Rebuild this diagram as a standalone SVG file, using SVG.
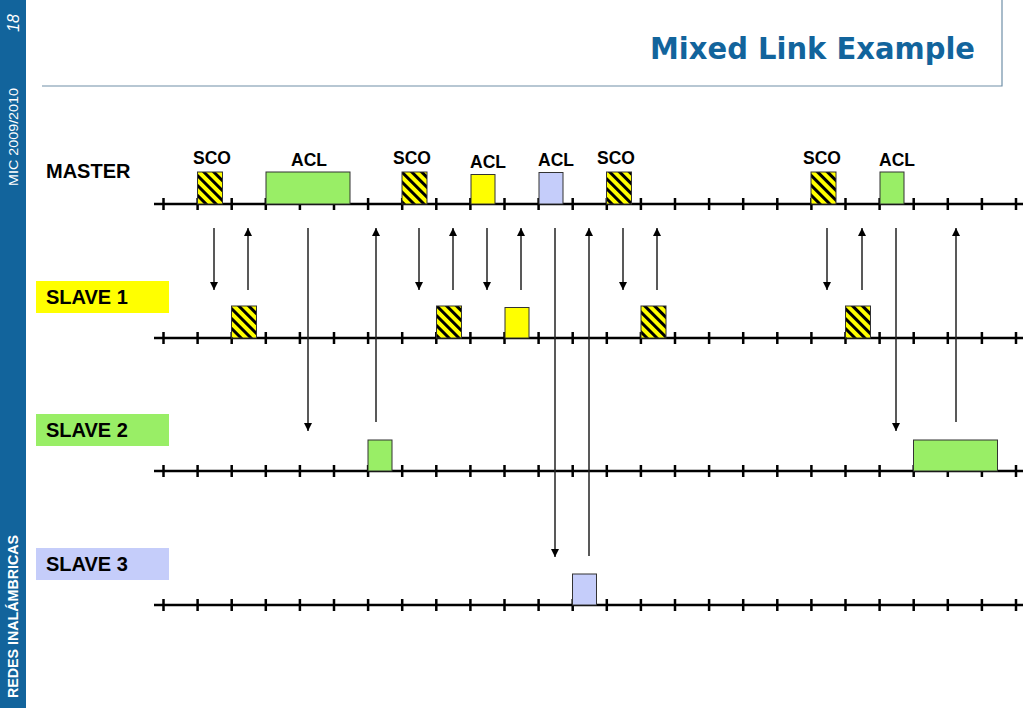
<svg xmlns="http://www.w3.org/2000/svg" width="1023" height="708" viewBox="0 0 1023 708">
<defs>
<pattern id="hatch" width="7" height="7" patternUnits="userSpaceOnUse" patternTransform="rotate(-45)">
<rect width="7" height="7" fill="#ffff00"/>
<rect width="3" height="7" fill="#000"/>
</pattern>
<marker id="ah" viewBox="0 0 10 10" refX="10" refY="5" markerWidth="8" markerHeight="8" markerUnits="userSpaceOnUse" orient="auto">
<path d="M0,0 L10,5 L0,10 z" fill="#000"/>
</marker>
<g id="ruler">
<line x1="154" y1="0" x2="1023" y2="0" stroke="#000" stroke-width="2.5"/>
<path d="M163.5,-6v12M197.6,-6v12M231.7,-6v12M265.8,-6v12M299.9,-6v12M334,-6v12M368.1,-6v12M402.2,-6v12M436.3,-6v12M470.4,-6v12M504.5,-6v12M538.6,-6v12M572.7,-6v12M606.8,-6v12M640.9,-6v12M675,-6v12M709.1,-6v12M743.2,-6v12M777.3,-6v12M811.4,-6v12M845.5,-6v12M879.6,-6v12M913.7,-6v12M947.8,-6v12M981.9,-6v12M1016,-6v12" stroke="#000" stroke-width="2.5"/>
</g>
</defs>
<style>
.lbl{font-family:"Liberation Sans",Arial,sans-serif;font-weight:bold;font-size:17.5px;fill:#000;text-anchor:middle}
.row{font-family:"Liberation Sans",Arial,sans-serif;font-weight:bold;font-size:20px;fill:#000}
.sco{fill:url(#hatch);stroke:#333;stroke-width:1}
.grn{fill:#99ee66;stroke:#333;stroke-width:1}
.yel{fill:#ffff00;stroke:#333;stroke-width:1}
.blu{fill:#c5cdfa;stroke:#333;stroke-width:1}
.arr{stroke:#222;stroke-width:1.5;fill:none;marker-end:url(#ah)}
</style>
<rect width="1023" height="708" fill="#fff"/>
<g id="sidebar">
<rect x="0" y="0" width="26" height="708" fill="#12649c"/>
<text transform="translate(19,23) rotate(-90)" font-family="Liberation Sans,Arial,sans-serif" font-style="italic" font-size="16" fill="#fff" text-anchor="middle">18</text>
<text transform="translate(18,186) rotate(-90)" font-family="Liberation Sans,Arial,sans-serif" font-size="13.5" fill="#fff" textLength="98" lengthAdjust="spacingAndGlyphs">MIC 2009/2010</text>
<text transform="translate(18,698) rotate(-90)" font-family="Liberation Sans,Arial,sans-serif" font-weight="bold" font-size="14.5" fill="#fff" textLength="163" lengthAdjust="spacingAndGlyphs">REDES INALÁMBRICAS</text>
</g>
<g id="title">
<path d="M42,86H1002V0" stroke="#7090a8" stroke-width="1.2" fill="none"/>
<text x="975" y="59" font-family="DejaVu Sans,Verdana,sans-serif" font-weight="bold" font-size="31" fill="#12649c" text-anchor="end" textLength="325" lengthAdjust="spacingAndGlyphs">Mixed Link Example</text>
</g>
<g id="master">
<text class="row" x="46" y="178">MASTER</text>
<use href="#ruler" y="204"/>
<rect class="sco" x="197.5" y="172" width="25" height="32"/>
<rect class="grn" x="266" y="172" width="84" height="32"/>
<rect class="sco" x="402" y="172" width="25" height="32"/>
<rect class="yel" x="471" y="174.5" width="24" height="29.5"/>
<rect class="blu" x="539" y="172.5" width="24" height="31.5"/>
<rect class="sco" x="606.5" y="172" width="25" height="32"/>
<rect class="sco" x="811" y="172" width="25" height="32"/>
<rect class="grn" x="880" y="172" width="24" height="32"/>
<text class="lbl" x="212" y="164">SCO</text>
<text class="lbl" x="309" y="166">ACL</text>
<text class="lbl" x="412" y="164">SCO</text>
<text class="lbl" x="488" y="168">ACL</text>
<text class="lbl" x="556" y="166">ACL</text>
<text class="lbl" x="616" y="164">SCO</text>
<text class="lbl" x="822" y="164">SCO</text>
<text class="lbl" x="897" y="166">ACL</text>
</g>
<g id="slave1">
<rect x="36" y="281" width="133" height="32" fill="#ffff00"/>
<text class="row" x="46" y="304">SLAVE 1</text>
<use href="#ruler" y="338"/>
<rect class="sco" x="231.5" y="306" width="25" height="32"/>
<rect class="sco" x="436.5" y="306" width="25" height="32"/>
<rect class="yel" x="505" y="307.5" width="24" height="30.5"/>
<rect class="sco" x="641" y="306" width="25" height="32"/>
<rect class="sco" x="845.5" y="306" width="25" height="32"/>
</g>
<g id="slave2">
<rect x="36" y="414" width="133" height="32" fill="#99ee66"/>
<text class="row" x="46" y="437">SLAVE 2</text>
<use href="#ruler" y="471"/>
<rect class="grn" x="368" y="440" width="24" height="31"/>
<rect class="grn" x="913.5" y="440" width="84" height="31"/>
</g>
<g id="slave3">
<rect x="36" y="548" width="133" height="32" fill="#c5cdfa"/>
<text class="row" x="46" y="571">SLAVE 3</text>
<use href="#ruler" y="605"/>
<rect class="blu" x="572.5" y="574" width="24" height="31"/>
</g>
<g id="connectors">
<line class="arr" x1="214" y1="228" x2="214" y2="290"/>
<line class="arr" x1="248" y1="290" x2="248" y2="228"/>
<line class="arr" x1="308" y1="228" x2="308" y2="431"/>
<line class="arr" x1="376" y1="422" x2="376" y2="228"/>
<line class="arr" x1="419" y1="228" x2="419" y2="290"/>
<line class="arr" x1="453" y1="290" x2="453" y2="228"/>
<line class="arr" x1="487" y1="228" x2="487" y2="290"/>
<line class="arr" x1="521" y1="290" x2="521" y2="228"/>
<line class="arr" x1="555" y1="228" x2="555" y2="557"/>
<line class="arr" x1="589" y1="556" x2="589" y2="228"/>
<line class="arr" x1="623" y1="228" x2="623" y2="290"/>
<line class="arr" x1="657" y1="290" x2="657" y2="228"/>
<line class="arr" x1="827" y1="228" x2="827" y2="290"/>
<line class="arr" x1="862" y1="290" x2="862" y2="228"/>
<line class="arr" x1="896" y1="228" x2="896" y2="431"/>
<line class="arr" x1="956" y1="422" x2="956" y2="228"/>
</g>
</svg>
